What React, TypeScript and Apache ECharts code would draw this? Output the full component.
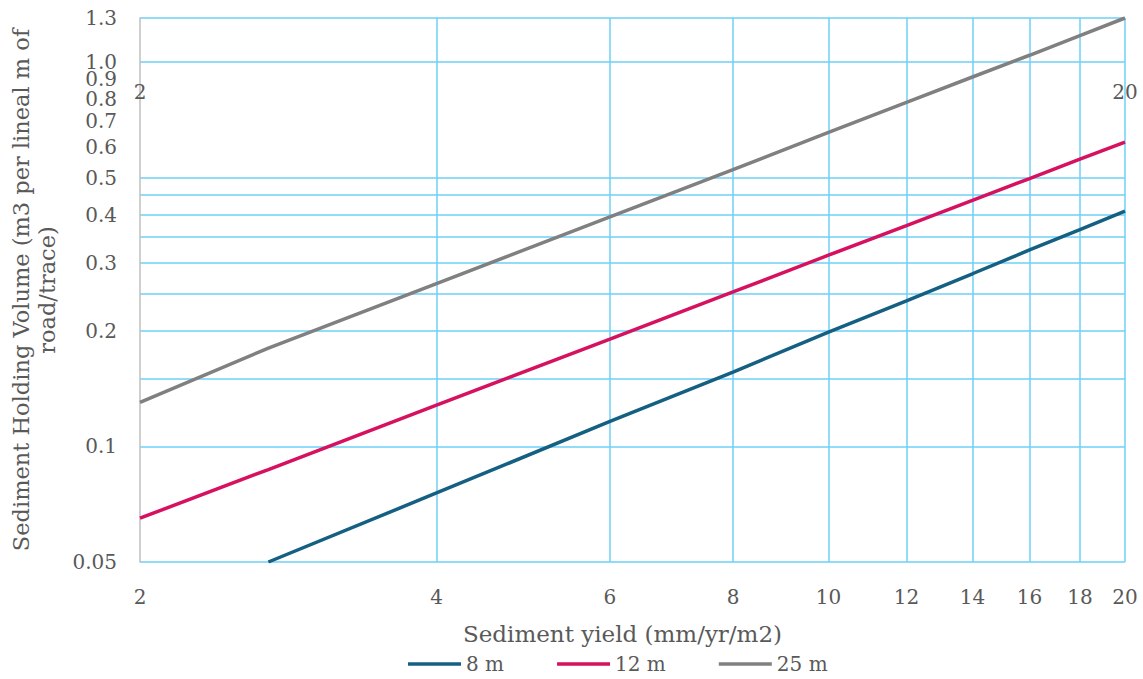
import React, { useEffect, useRef } from "react";
import * as echarts from "echarts";

const xValues = [2, 2.7, 4, 6, 8, 10, 12, 14, 16, 18, 20];
const series8m = [null, 0.05, 0.0756, 0.116, 0.156, 0.198, 0.239, 0.281, 0.324, 0.366, 0.409];
const series12m = [0.065, 0.087, 0.128, 0.19, 0.252, 0.314, 0.375, 0.436, 0.497, 0.558, 0.618];
const series25m = [0.13, 0.18, 0.265, 0.395, 0.524, 0.655, 0.784, 0.913, 1.04, 1.17, 1.3];
const seriesNames = ["8 m", "12 m", "25 m"];
const seriesColors = ["#156082", "#d6115f", "#808080"];

const xTickLabels = [2, 4, 6, 8, 10, 12, 14, 16, 18, 20];
const xGridValues = [4, 6, 8, 10, 12, 14, 16, 18, 20];
const topTickLabels = [2, 20];
const yTickLabels = [0.05, 0.1, 0.2, 0.3, 0.4, 0.5, 0.6, 0.7, 0.8, 0.9, 1.0, 1.3];
const yGridValues = [0.05, 0.1, 0.15, 0.2, 0.25, 0.3, 0.35, 0.4, 0.45, 0.5, 1.0, 1.3];

const xTitle = "Sediment yield (mm/yr/m2)";
const yTitle = "Sediment Holding Volume (m3 per lineal m of\nroad/trace)";

const FONT = "DejaVu Serif";
const TEXT = "#595959";
const GRID = "#6fd0f7";

function pairs(ys: (number | null)[]) {
  const out: [number, number][] = [];
  ys.forEach((y, i) => {
    if (y !== null) out.push([xValues[i], y]);
  });
  return out;
}

export default function App() {
  const ref = useRef<HTMLDivElement>(null);
  useEffect(() => {
    if (!ref.current) return;
    const chart = echarts.init(ref.current, null, { renderer: "svg" });
    const allSeries = [series8m, series12m, series25m];
    chart.setOption({
      animation: false,
      backgroundColor: "#ffffff",
      textStyle: { fontFamily: FONT, color: TEXT },
      grid: { left: 140, right: 18, top: 18, bottom: 117, containLabel: false },
      legend: {
        left: 403,
        top: 649,
        icon: "rect",
        itemWidth: 53,
        itemHeight: 3.5,
        itemGap: 53,
        data: seriesNames,
        textStyle: { fontFamily: FONT, fontSize: 20, color: TEXT },
      },
      xAxis: [
        {
          type: "log",
          min: 2,
          max: 20,
          name: xTitle,
          nameLocation: "middle",
          nameGap: 60,
          nameTextStyle: { fontFamily: FONT, fontSize: 23, color: TEXT, padding: [0, 20, 0, 0] },
          axisLine: { show: false },
          axisTick: { show: false, customValues: xGridValues },
          splitLine: { show: true, lineStyle: { color: GRID, width: 1.5 } },
          axisLabel: {
            customValues: xTickLabels,
            margin: 25,
            fontFamily: FONT,
            fontSize: 20,
            color: TEXT,
            formatter: (v: number) => String(Math.round(v)),
          },
        },
        {
          type: "log",
          min: 2,
          max: 20,
          position: "top",
          axisLine: { show: false },
          axisTick: { show: false },
          splitLine: { show: false },
          axisLabel: {
            inside: true,
            customValues: topTickLabels,
            margin: 64,
            fontFamily: FONT,
            fontSize: 20,
            color: TEXT,
            formatter: (v: number) => String(Math.round(v)),
          },
        },
      ],
      yAxis: {
        type: "log",
        min: 0.05,
        max: 1.3,
        name: yTitle,
        nameLocation: "middle",
        nameGap: 80,
        nameTextStyle: { fontFamily: FONT, fontSize: 22.5, color: TEXT, lineHeight: 26, align: "center" },
        axisLine: { show: true, lineStyle: { color: "#bfbfbf", width: 1.5 } },
        axisTick: { show: false, customValues: yGridValues },
        splitLine: { show: true, lineStyle: { color: GRID, width: 1.5 } },
        axisLabel: {
          customValues: yTickLabels,
          margin: 23,
          fontFamily: FONT,
          fontSize: 20,
          lineHeight: 15,
          color: TEXT,
          formatter: (v: number) => {
            const r = Math.round(v * 1000) / 1000;
            return r === 1 ? "1.0" : String(r);
          },
        },
      },
      series: allSeries.map((ys, i) => ({
        name: seriesNames[i],
        type: "line",
        xAxisIndex: 0,
        data: pairs(ys),
        symbol: "none",
        showSymbol: false,
        lineStyle: { color: seriesColors[i], width: 3.5 },
        itemStyle: { color: seriesColors[i] },
        z: 3 + i,
      })),
    });
    return () => chart.dispose();
  }, []);
  return (
    <div
      ref={ref}
      style={{ position: "fixed", left: 0, top: 0, width: 1143, height: 679 }}
    />
  );
}
